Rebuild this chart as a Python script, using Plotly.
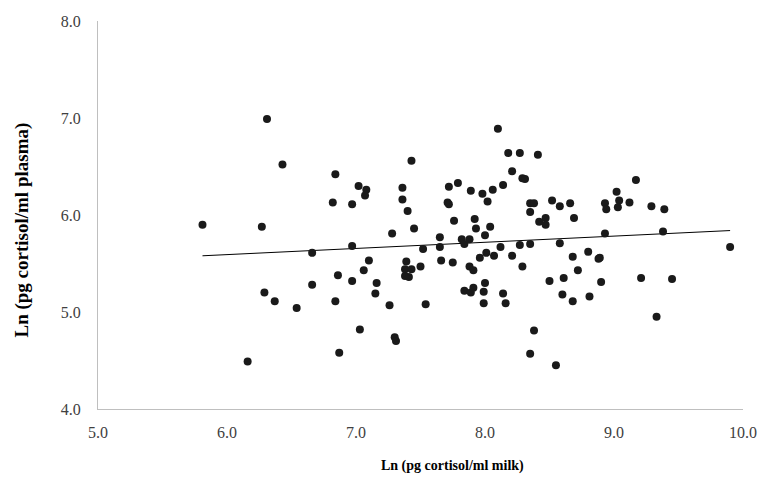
import plotly.graph_objects as go

milk_ln = [6.31, 6.43, 5.81, 6.27, 6.66, 6.66, 6.29, 6.37, 6.54, 6.16,
           8.10, 8.18, 8.27, 8.21, 8.29, 8.31, 7.43, 6.84, 7.02, 7.08,
           7.07, 6.82, 6.97, 7.36, 7.36, 7.40, 7.72, 7.79, 7.89, 7.98,
           8.06, 8.14, 8.02, 7.71, 7.72, 7.76, 7.92, 7.93, 8.04, 8.00,
           7.45, 7.28, 7.65, 7.65, 7.82, 7.84, 7.88, 8.12, 8.27, 6.97,
           7.52, 7.96, 8.01, 8.07, 8.21, 7.10, 7.06, 6.86, 6.97, 7.16,
           7.15, 6.84, 7.26, 7.54, 7.39, 7.38, 7.43, 7.38, 7.41, 7.50,
           7.66, 7.75, 7.88, 7.91, 8.29, 8.00, 7.91, 7.84, 7.89, 7.99,
           8.14, 7.99, 8.16, 7.03, 7.30, 7.31, 6.87, 8.41, 9.17, 9.02,
           9.04, 8.93, 8.94, 9.03, 9.12, 9.29, 9.39, 8.52, 8.58, 8.66,
           8.35, 8.38, 8.35, 8.47, 8.42, 8.47, 8.69, 8.93, 9.38, 8.35,
           8.58, 9.90, 8.68, 8.80, 8.88, 8.89, 8.50, 8.61, 8.72, 8.90,
           9.21, 9.45, 8.60, 8.68, 8.81, 9.33, 8.38, 8.35, 8.55]

plasma_ln = [6.99, 6.52, 5.90, 5.88, 5.61, 5.28, 5.20, 5.11, 5.04, 4.49,
             6.89, 6.64, 6.64, 6.45, 6.38, 6.37, 6.56, 6.42, 6.30, 6.26,
             6.20, 6.13, 6.11, 6.28, 6.16, 6.04, 6.29, 6.33, 6.25, 6.22,
             6.26, 6.31, 6.14, 6.13, 6.11, 5.94, 5.96, 5.86, 5.88, 5.79,
             5.86, 5.81, 5.77, 5.67, 5.75, 5.70, 5.75, 5.67, 5.69, 5.68,
             5.65, 5.56, 5.61, 5.58, 5.58, 5.53, 5.43, 5.38, 5.32, 5.30,
             5.19, 5.11, 5.07, 5.08, 5.52, 5.44, 5.44, 5.37, 5.36, 5.47,
             5.53, 5.51, 5.47, 5.43, 5.47, 5.30, 5.25, 5.22, 5.20, 5.21,
             5.19, 5.09, 5.09, 4.82, 4.74, 4.70, 4.58, 6.62, 6.36, 6.24,
             6.15, 6.12, 6.06, 6.08, 6.13, 6.09, 6.06, 6.15, 6.09, 6.12,
             6.12, 6.12, 6.03, 5.97, 5.93, 5.90, 5.97, 5.81, 5.83, 5.70,
             5.71, 5.67, 5.57, 5.62, 5.55, 5.56, 5.32, 5.35, 5.43, 5.31,
             5.35, 5.34, 5.18, 5.11, 5.16, 4.95, 4.81, 4.57, 4.45]

trend_slope = 0.0636
trend_intercept = 5.21

x_ticks = [5.0, 6.0, 7.0, 8.0, 9.0, 10.0]
y_ticks = [4.0, 5.0, 6.0, 7.0, 8.0]

x_title = "Ln (pg cortisol/ml milk)"
y_title = "Ln (pg cortisol/ml plasma)"

x_min, x_max = min(milk_ln), max(milk_ln)
trend_x = [x_min, x_max]
trend_y = [trend_intercept + trend_slope * v for v in trend_x]

serif = "Liberation Serif"

fig = go.Figure()
fig.add_trace(go.Scatter(
    x=trend_x, y=trend_y, mode="lines",
    line=dict(color="#000000", width=1), hoverinfo="skip", showlegend=False))
fig.add_trace(go.Scatter(
    x=milk_ln, y=plasma_ln, mode="markers",
    marker=dict(color="#1a1a1a", size=8), showlegend=False))

fig.update_layout(
    width=769, height=478,
    margin=dict(l=98, r=17, t=21, b=69),
    paper_bgcolor="white", plot_bgcolor="white",
    font=dict(family=serif, color="#404040", size=16),
    showlegend=False,
)
fig.update_xaxes(
    range=[5.0, 10.0], tickvals=x_ticks, ticktext=[f"{v:.1f}" for v in x_ticks],
    tickfont=dict(family=serif, size=16, color="#404040"),
    showgrid=False, zeroline=False, showline=True, linecolor="#bfbfbf", linewidth=1,
    ticks="", ticklabelstandoff=9,
)
fig.update_yaxes(
    range=[4.0, 8.0], tickvals=y_ticks, ticktext=[f"{v:.1f}" for v in y_ticks],
    tickfont=dict(family=serif, size=16, color="#404040"),
    showgrid=False, zeroline=False, showline=True, linecolor="#bfbfbf", linewidth=1,
    ticks="", ticklabelstandoff=13,
)

# axis titles placed as annotations (pixel offsets from the plot edges)
fig.add_annotation(
    text=f"<b>{x_title}</b>", xref="paper", yref="paper",
    x=0.55, y=0, xanchor="center", yanchor="middle", yshift=-57,
    showarrow=False, font=dict(size=14, color="#000000", family=serif))
fig.add_annotation(
    text=f"<b>{y_title}</b>", xref="paper", yref="paper",
    x=0, y=0.46, xanchor="center", yanchor="middle", xshift=-76, textangle=-90,
    showarrow=False, font=dict(size=19, color="#000000", family=serif))

fig.write_html("out.html", config={"displayModeBar": False},
               post_script="document.body.style.margin='0';")
